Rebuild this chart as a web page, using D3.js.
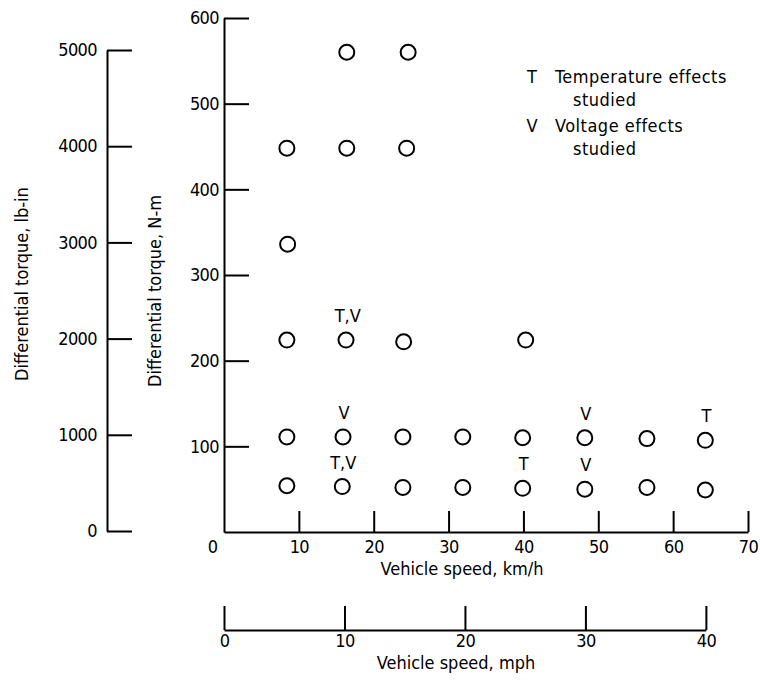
<!DOCTYPE html>
<html>
<head>
<meta charset="utf-8">
<script src="https://cdn.jsdelivr.net/npm/d3@7"></script>
<style>
  body { margin: 0; background: #fff; }
  svg text { font-family: "DejaVu Sans Condensed", "Liberation Sans Narrow", sans-serif; fill: #000; }
</style>
</head>
<body>
<div id="chart"></div>
<script>
// Mätpunkter (hastighet km/h, moment N-m)
var speedKmh = [16.4, 24.6,
                8.4, 16.4, 24.4,
                8.5,
                8.4, 16.3, 24.0, 40.3,
                8.4, 15.9, 23.9, 31.9, 39.9, 48.2, 56.5, 64.3,
                8.4, 15.8, 23.9, 31.9, 39.9, 48.2, 56.5, 64.3];
var torqueNm = [560, 560,
                448, 448, 448,
                336,
                224, 224, 222, 224,
                111, 111, 111, 111, 110, 110, 109, 107,
                54, 53, 52, 52, 51, 50, 52, 49];

// T / V markeringar ovanför vissa punkter
var noteSpeed = [16.4, 15.9, 48.2, 64.3, 15.8, 39.9, 48.2];
var noteTorque = [224, 111, 110, 107, 53, 51, 50];
var noteText = ["T,V", "V", "V", "T", "T,V", "T", "V"];

// Axlar
var nmTicks = [100, 200, 300, 400, 500, 600];
var lbinTicks = [0, 1000, 2000, 3000, 4000, 5000];
var kmhTicks = [10, 20, 30, 40, 50, 60, 70];
var mphTicks = [0, 10, 20, 30, 40];

var legendSym = ["T", "V"];
var legendText = [["Temperature effects", "studied"], ["Voltage effects", "studied"]];

var width = 760, height = 681;
var KMH_PER_MPH = 1.609344;
var FS = 18;

var svg = d3.select("#chart").append("svg")
    .attr("width", width)
    .attr("height", height);

var x = d3.scaleLinear().domain([0, 70]).range([224, 748]);
var y = d3.scaleLinear().domain([0, 600]).range([532, 18]);
var yLb = d3.scaleLinear().domain([0, 5000]).range([531, 50]);
var xMph = d3.scaleLinear().domain([0, 40]).range([x(0), x(40 * KMH_PER_MPH)]);

function styleAxis(g) {
    g.selectAll("path.domain").attr("stroke", "#000").attr("stroke-width", 2);
    g.selectAll(".tick line").attr("stroke", "#000").attr("stroke-width", 2);
    g.selectAll(".tick text").attr("font-size", FS).attr("fill", "#000")
        .attr("letter-spacing", -0.6)
        .style("font-family", '"DejaVu Sans Condensed", "Liberation Sans Narrow", sans-serif');
}

// lb-in axeln till vänster
var gLb = svg.append("g").attr("transform", "translate(107,0)")
    .call(d3.axisLeft(yLb).tickValues(lbinTicks).tickFormat(d3.format("d"))
        .tickSizeInner(-25).tickSizeOuter(0).tickPadding(10));
styleAxis(gLb);

// N-m axeln
var gNm = svg.append("g").attr("transform", "translate(224,0)")
    .call(d3.axisLeft(y).tickValues(nmTicks).tickFormat(d3.format("d"))
        .tickSizeInner(-25).tickSizeOuter(0).tickPadding(5));
styleAxis(gNm);

// km/h axeln
var gKmh = svg.append("g").attr("transform", "translate(0,532)")
    .call(d3.axisBottom(x).tickValues(kmhTicks).tickFormat(d3.format("d"))
        .tickSizeInner(-21).tickSizeOuter(0).tickPadding(8));
styleAxis(gKmh);

// gemensam nolla i hörnet
svg.append("text")
    .attr("x", x(0) - 11).attr("y", 532 + 8)
    .attr("dy", "0.71em")
    .attr("text-anchor", "middle")
    .attr("font-size", FS)
    .text("0");

// mph axeln
var gMph = svg.append("g").attr("transform", "translate(0,630)")
    .call(d3.axisBottom(xMph).tickValues(mphTicks).tickFormat(d3.format("d"))
        .tickSizeInner(-24).tickSizeOuter(0).tickPadding(4));
styleAxis(gMph);

// Axeltitlar
svg.append("text")
    .attr("transform", "translate(28,284) rotate(-90)")
    .attr("text-anchor", "middle")
    .attr("font-size", FS)
    .text("Differential torque,  lb-in");

svg.append("text")
    .attr("transform", "translate(161,291) rotate(-90)")
    .attr("text-anchor", "middle")
    .attr("font-size", FS)
    .text("Differential torque,  N-m");

svg.append("text")
    .attr("x", 462).attr("y", 575)
    .attr("text-anchor", "middle")
    .attr("font-size", FS)
    .text("Vehicle speed,  km/h");

svg.append("text")
    .attr("x", 456).attr("y", 669)
    .attr("text-anchor", "middle")
    .attr("font-size", FS)
    .text("Vehicle speed,  mph");

// Cirklar
svg.selectAll("circle.pt")
    .data(speedKmh)
    .enter().append("circle")
        .attr("class", "pt")
        .attr("cx", d => x(d))
        .attr("cy", (d, i) => y(torqueNm[i]))
        .attr("r", 7.5)
        .attr("fill", "none")
        .attr("stroke", "#000")
        .attr("stroke-width", 2);

// T/V etiketter
svg.selectAll("text.note")
    .data(noteText)
    .enter().append("text")
        .attr("class", "note")
        .attr("x", (d, i) => x(noteSpeed[i]) + 1)
        .attr("y", (d, i) => y(noteTorque[i]) - 18)
        .attr("text-anchor", "middle")
        .attr("font-size", FS)
        .text(d => d);

// Förklaring
var legend = svg.append("g").attr("transform", "translate(532,83)");
legendSym.forEach(function(s, i) {
    var g = legend.append("g").attr("transform", "translate(0," + (i * 49) + ")");
    g.append("text").attr("x", 0).attr("text-anchor", "middle").attr("font-size", FS).text(s);
    g.append("text").attr("x", 23).attr("font-size", FS).attr("letter-spacing", 0.5).text(legendText[i][0]);
    g.append("text").attr("x", 41).attr("y", 23).attr("font-size", FS).attr("letter-spacing", 0.5).text(legendText[i][1]);
});
</script>
</body>
</html>
